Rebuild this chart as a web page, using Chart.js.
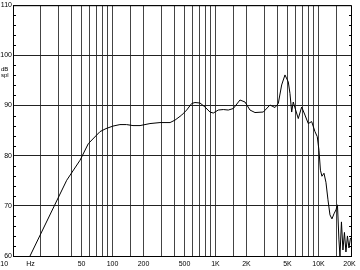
<!DOCTYPE html>
<html>
<head>
<meta charset="utf-8">
<script src="https://cdn.jsdelivr.net/npm/chart.js@4/dist/chart.umd.min.js"></script>
<style>
  html, body { margin: 0; padding: 0; background: #fff; }
  canvas { display: block; }
</style>
</head>
<body>
<canvas id="response" width="360" height="270"></canvas>
<script>
// frequency response (Hz, dB SPL)
const freqHz = [15.8, 27.2, 35.9, 48.4, 58.2, 75.6, 86.5, 101, 118, 137, 158, 185, 231, 289, 362, 405,
  470, 525, 587, 632, 707, 791, 884, 952, 1065, 1191, 1331, 1489, 1729, 1934, 2163, 2418, 2912, 3382,
  3781, 4071, 4391, 4729, 5092, 5288, 5493, 5692, 6006, 6366, 6868, 7396, 7962, 8590, 9247, 9735,
  10110, 10450, 10810, 11310, 11820, 12370, 12930, 13520, 14140, 14790, 15290, 15810, 16170, 16720,
  17290, 17880, 18490, 19120, 19780, 20450];
const splDb = [60.0, 70.0, 75.1, 79.1, 82.4, 84.8, 85.4, 85.9, 86.2, 86.2, 86.0, 86.0, 86.4, 86.6, 86.6, 87.1,
  88.1, 89.1, 90.4, 90.6, 90.5, 89.7, 88.7, 88.5, 89.1, 89.2, 89.1, 89.4, 91.1, 90.7, 89.1, 88.6, 88.7, 90.1,
  89.6, 90.4, 94.1, 96.1, 94.7, 92.4, 88.7, 90.7, 89.1, 87.4, 89.7, 88.1, 86.4, 86.8, 84.8, 83.8,
  81.1, 77.1, 75.9, 76.5, 74.7, 71.2, 68.2, 67.4, 68.4, 69.2, 70.2, 63.2, 60.0, 66.8,
  61.2, 64.7, 60.8, 64.0, 61.6, 63.6];

const gridFreqs = [20, 30, 40, 50, 60, 70, 80, 90, 100, 150, 200, 300, 400, 500, 600, 700, 800, 900,
  1000, 1500, 2000, 3000, 4000, 5000, 6000, 7000, 8000, 9000, 10000, 15000];
const xTickValues = [10, 16, 50, 100, 200, 500, 1000, 2000, 5000, 10000, 20000];
const xTickLabels = ["10", "Hz", "50", "100", "200", "500", "1K", "2K", "5K", "10K", "20K"];
const yMinorTicks = [62, 64, 66, 68, 72, 74, 76, 78, 82, 84, 86, 88, 92, 94, 96, 98, 102, 104, 106, 108];

const labelFont = "7px 'Liberation Sans', Arial, sans-serif";

// frame, minor ticks and the text around the plot
const framePlugin = {
  id: "frame",
  afterDraw(chart) {
    const { ctx, chartArea: a, scales: { x, y } } = chart;
    ctx.save();
    ctx.strokeStyle = "#000";
    ctx.lineWidth = 1;
    ctx.strokeRect(a.left + 0.5, a.top + 0.5, a.right - a.left, a.bottom - a.top);

    ctx.beginPath();
    yMinorTicks.forEach(v => {
      const py = Math.round(y.getPixelForValue(v)) + 0.5;
      ctx.moveTo(a.left, py); ctx.lineTo(a.left + 3, py);
      ctx.moveTo(a.right - 2, py); ctx.lineTo(a.right + 1, py);
    });
    ctx.stroke();

    ctx.fillStyle = "#000";
    ctx.font = labelFont;
    ctx.textBaseline = "middle";
    xTickValues.forEach((v, i) => {
      const px = x.getPixelForValue(v);
      if (i === 0) {
        ctx.textAlign = "right";
        ctx.fillText(xTickLabels[i], px - 1.5, a.bottom + 8);
      } else {
        ctx.textAlign = "center";
        ctx.fillText(xTickLabels[i], px, a.bottom + 8);
      }
    });

    ctx.textAlign = "left";
    ctx.font = "6px 'Liberation Sans', Arial, sans-serif";
    ctx.fillText("dB", 1, 69);
    ctx.fillText("spl", 1, 75);
    ctx.restore();
  }
};

new Chart(document.getElementById("response"), {
  type: "line",
  data: {
    datasets: [{
      data: freqHz.map((f, i) => ({ x: f, y: splDb[i] })),
      borderColor: "#000",
      borderWidth: 1,
      pointRadius: 0,
      tension: 0,
      fill: false
    }]
  },
  options: {
    responsive: false,
    animation: false,
    layout: { padding: { top: 5, right: 9, left: 0, bottom: 0 } },
    plugins: { legend: { display: false }, tooltip: { enabled: false } },
    scales: {
      x: {
        type: "logarithmic",
        min: 10.8,
        max: 20700,
        afterBuildTicks: scale => { scale.ticks = gridFreqs.map(v => ({ value: v })); },
        afterFit: scale => { scale.height = 14; },
        ticks: { display: false },
        grid: { color: "#444", drawTicks: false },
        border: { display: false }
      },
      y: {
        min: 60,
        max: 110,
        afterFit: scale => { scale.width = 13; },
        ticks: {
          stepSize: 10,
          padding: 1,
          color: "#000",
          font: { family: "'Liberation Sans', Arial, sans-serif", size: 7 }
        },
        grid: { color: "#222", drawTicks: false },
        border: { display: false }
      }
    }
  },
  plugins: [framePlugin]
});
</script>
</body>
</html>
